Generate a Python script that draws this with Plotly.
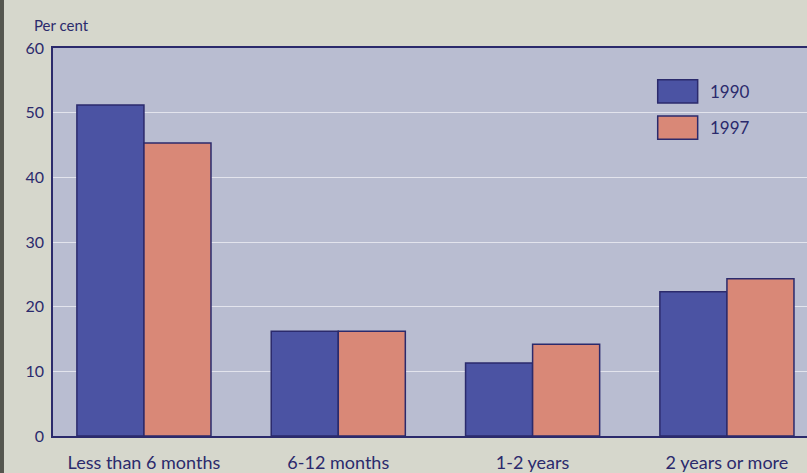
import plotly.graph_objects as go

categories = ["Less than 6 months", "6-12 months", "1-2 years", "2 years or more"]
series_names = ["1990", "1997"]
values_1990 = [51.2, 16.2, 11.3, 22.3]
values_1997 = [45.3, 16.2, 14.2, 24.3]
y_ticks = [0, 10, 20, 30, 40, 50, 60]

navy = "#2b2a6c"
blue = "#4b53a3"
salmon = "#d98877"
plot_bg = "#b9bdd1"
paper_bg = "#d6d7cc"
font_family = "Lato, 'Open Sans', sans-serif"

fig = go.Figure()
for name, vals, col in [(series_names[0], values_1990, blue), (series_names[1], values_1997, salmon)]:
    fig.add_trace(go.Bar(
        x=list(range(len(categories))), y=vals, name=name,
        marker=dict(color=col, line=dict(color=navy, width=1.5)),
        showlegend=False,
    ))

# legend drawn as boxes with labels
legend_items = [(series_names[0], blue, 0.888), (series_names[1], salmon, 0.795)]
for name, col, yc in legend_items:
    fig.add_shape(type="rect", xref="paper", yref="paper",
                  x0=0.802, x1=0.855, y0=yc - 0.03, y1=yc + 0.03,
                  fillcolor=col, line=dict(color=navy, width=1.5))
    fig.add_annotation(xref="paper", yref="paper", x=0.869, y=yc, text=name,
                       showarrow=False, xanchor="left", yanchor="middle",
                       font=dict(size=17, color=navy, family=font_family))

fig.add_annotation(xref="paper", yref="paper", x=-0.028, y=1.03, text="Per cent",
                   showarrow=False, xanchor="left", yanchor="bottom",
                   font=dict(size=15, color=navy, family=font_family))

# scanned page edge on the left
fig.add_shape(type="rect", xref="paper", yref="paper", x0=-0.0715, x1=-0.065,
              y0=-0.2, y1=1.2, fillcolor="#55564f", line=dict(width=0), layer="below")

fig.update_layout(
    width=807, height=473,
    margin=dict(l=53, r=0, t=48, b=37),
    paper_bgcolor=paper_bg, plot_bgcolor=plot_bg,
    barmode="group", bargap=0.31, bargroupgap=0,
    font=dict(family=font_family, color=navy),
    xaxis=dict(
        tickmode="array", tickvals=list(range(len(categories))), ticktext=categories,
        range=[-0.468, 3.412], showgrid=False, zeroline=False,
        showline=True, linecolor=navy, linewidth=1.5, mirror=True,
        tickfont=dict(size=18, color=navy), ticks="", ticklabelstandoff=10,
    ),
    yaxis=dict(
        range=[0, 60], tickvals=y_ticks, showgrid=True,
        gridcolor="rgba(245,245,250,0.7)", gridwidth=1, zeroline=False,
        showline=True, linecolor=navy, linewidth=1.5,
        tickfont=dict(size=16, color=navy), ticks="", ticklabelstandoff=4,
    ),
)

fig.write_html("out.html")
